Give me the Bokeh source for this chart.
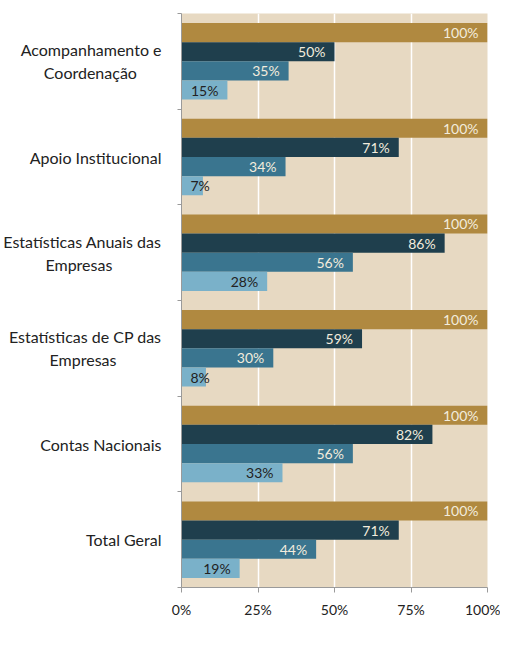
from bokeh.plotting import figure
from bokeh.models import Range1d, FixedTicker, ColumnDataSource, Legend, LegendItem
from bokeh.core.properties import value
from bokeh.embed import file_html
from bokeh.resources import INLINE

categories = ["Acompanhamento e\nCoordenação", "Apoio Institucional",
              "Estatísticas Anuais das\nEmpresas", "Estatísticas de CP das\nEmpresas",
              "Contas Nacionais", "Total Geral"]
series_names = ["Ano 4", "Ano 3", "Ano 2", "Ano 1"]
ano4 = [100, 100, 100, 100, 100, 100]
ano3 = [50, 71, 86, 59, 82, 71]
ano2 = [35, 34, 56, 30, 56, 44]
ano1 = [15, 7, 28, 8, 33, 19]
x_ticks = [0, 25, 50, 75, 100]
x_tick_labels = ["0%", "25%", "50%", "75%", "100%"]

series_values = [ano4, ano3, ano2, ano1]
colors = ["#B08940", "#1F3F4D", "#3A758F", "#7AB1C9"]
label_colors = ["#F3ECDD", "#F3ECDD", "#F3ECDD", "#222222"]
offsets = [0.3, 0.1, -0.1, -0.3]
# non-breaking-space padding so second lines look centred under the first
second_line_pad = [6, 0, 12, 11, 0, 0]
FONT = "Lato"

n = len(categories)
p = figure(frame_width=306, frame_height=574,
           x_range=Range1d(0, 100), y_range=Range1d(0, n),
           output_backend="svg", toolbar_location=None,
           min_border_left=173, min_border_right=13, min_border_top=13, min_border_bottom=40)
p.background_fill_color = "#E7D9C2"
p.border_fill_color = "white"
p.outline_line_color = None

centers = [n - i - 0.5 for i in range(n)]
renderers = []
for name, vals, col, lcol, off in zip(series_names, series_values, colors, label_colors, offsets):
    ys = [c + off for c in centers]
    small = [v < 12 for v in vals]
    src = ColumnDataSource(dict(
        y=ys, right=vals,
        lx=[0 if s else v for s, v in zip(small, vals)],
        align=["left" if s else "right" for s in small],
        xoff=[9 if s else -9 for s in small],
        txt=[f"{v}%" for v in vals]))
    r = p.hbar(y="y", right="right", left=0, height=0.2, source=src,
               fill_color=col, line_color=None)
    renderers.append((name, r))
    p.text(x="lx", y="y", text="txt", source=src, text_align="align",
           x_offset="xoff", text_baseline="middle", text_color=lcol,
           text_font=value(FONT), text_font_size="14px")

def padded(label, k):
    if "\n" not in label or k == 0:
        return label
    a, b = label.split("\n")
    return a + "\n" + b + "\u00a0" * k

# axes
p.xaxis.ticker = FixedTicker(ticks=x_ticks)
p.xaxis.major_label_overrides = {t: l for t, l in zip(x_ticks, x_tick_labels)}
p.xaxis.minor_tick_line_color = None
p.xaxis.major_tick_in = 0
p.xaxis.major_tick_out = 5
p.xaxis.major_tick_line_color = "#9A9A9A"
p.xaxis.axis_line_color = "#9A9A9A"
p.xaxis.major_label_standoff = 8
p.xaxis.major_label_text_font = FONT
p.xaxis.major_label_text_font_size = "14px"
p.xaxis.major_label_text_color = "#222222"
p.xaxis.axis_label = None
p.xaxis.axis_label_standoff = 0

p.yaxis.ticker = FixedTicker(ticks=centers, minor_ticks=list(range(n + 1)))
p.yaxis.major_label_overrides = {c: padded(lab, k) for c, lab, k in zip(centers, categories, second_line_pad)}
p.yaxis.major_tick_line_color = None
p.yaxis.minor_tick_in = 0
p.yaxis.minor_tick_out = 4
p.yaxis.minor_tick_line_color = "#9A9A9A"
p.yaxis.axis_line_color = "#9A9A9A"
p.yaxis.major_label_standoff = 14
p.yaxis.major_label_text_font = FONT
p.yaxis.major_label_text_font_size = "16px"
p.yaxis.major_label_text_color = "#222222"

p.xgrid.ticker = FixedTicker(ticks=x_ticks)
p.xgrid.grid_line_color = "white"
p.xgrid.grid_line_width = 1.5
p.ygrid.grid_line_color = None

legend = Legend(items=[LegendItem(label=nm, renderers=[r]) for nm, r in renderers],
                orientation="horizontal", location="top_left",
                border_line_color=None, background_fill_color=None,
                glyph_width=11, glyph_height=11, label_standoff=2, spacing=37,
                padding=0, margin=0,
                label_text_font=FONT, label_text_font_size="15px", label_text_color="#222222")
p.add_layout(legend, "below")

open("out.html", "w").write(file_html(p, INLINE))
